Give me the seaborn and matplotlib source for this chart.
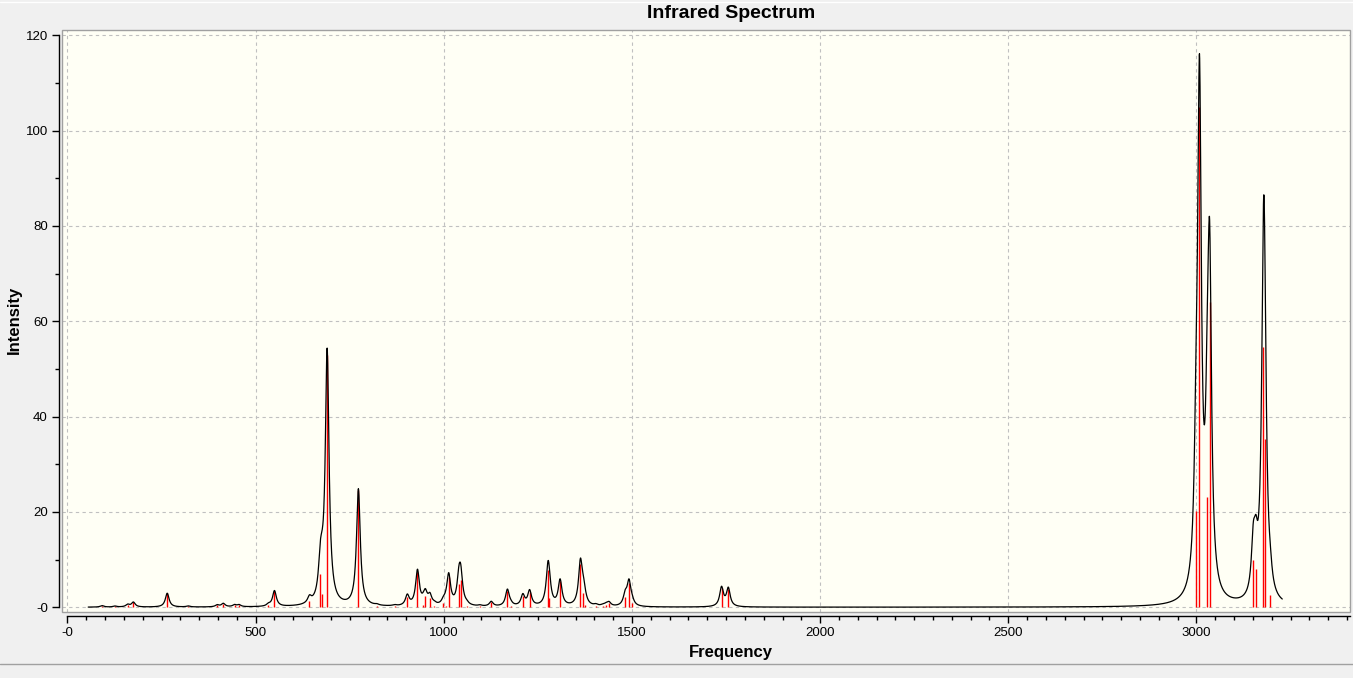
import numpy as np
import pandas as pd
import matplotlib
matplotlib.use("Agg")
import matplotlib.pyplot as plt
import seaborn as sns
from matplotlib.ticker import MultipleLocator, FuncFormatter
from matplotlib.patches import Rectangle
from matplotlib.lines import Line2D

# stick spectrum (frequency in cm-1, intensity)
freqs = [92, 126, 160, 175, 265, 321, 398, 414, 444, 456, 534, 550,
         643, 672, 677, 690, 773, 822, 869, 903, 930, 946, 951, 963,
         975, 999, 1006, 1013, 1040, 1045, 1061, 1096, 1126, 1169, 1178,
         1210, 1228, 1277, 1280, 1309, 1363, 1371, 1376, 1404, 1422, 1431,
         1439, 1482, 1492, 1500, 1738, 1756,
         2999, 3008, 3029, 3035, 3151, 3158, 3178, 3181, 3196]
intens = [0.3, 0.2, 0.5, 1.0, 2.9, 0.2, 0.4, 0.7, 0.4, 0.4, 0.4, 3.3,
          1.3, 6.9, 2.8, 53.0, 24.5, 0.2, 0.2, 2.2, 7.4, 0.5, 2.4, 2.0,
          0.3, 0.8, 0.3, 6.4, 4.8, 5.8, 0.3, 0.2, 1.0, 3.5, 0.3,
          2.3, 3.2, 7.8, 2.0, 5.4, 9.0, 2.9, 0.4, 0.3, 0.2, 0.4,
          0.8, 2.2, 5.0, 0.8, 4.0, 3.8,
          20.2, 105.0, 23.1, 64.0, 10.0, 8.0, 54.6, 35.3, 2.5]

# Lorentzian broadening of the sticks (half width at half maximum, cm-1)
hwhm = 6.0
curve_start, curve_end = 55, 3228

grid = np.arange(curve_start, curve_end + 0.5, 0.5)
f = np.array(freqs)[:, None]
a = np.array(intens)[:, None]
spectrum = (a / (1 + ((grid[None, :] - f) / hwhm) ** 2)).sum(axis=0)
df = pd.DataFrame({"Frequency": grid, "Intensity": spectrum})

sns.set_style("white")
plt.rcParams["font.family"] = ["Liberation Sans", "DejaVu Sans"]
plt.rcParams["text.color"] = "black"

W, H = 1353, 678
fig = plt.figure(figsize=(W / 100, H / 100), dpi=100, facecolor="#F0F0F0")
ax = fig.add_axes([62 / W, 1 - 611.5 / H, (1350 - 62) / W, (611.5 - 29.5) / H])
ax.set_facecolor("#FFFFF5")

ax.vlines(freqs, 0, intens, colors="red", lw=1.0, zorder=2)
sns.lineplot(data=df, x="Frequency", y="Intensity", color="black", lw=0.9,
             sort=False, estimator=None, ax=ax, zorder=3)

ax.set_xlim(-14.6, 3408)
ax.set_ylim(-0.9, 121.2)

ax.xaxis.set_major_locator(MultipleLocator(500))
ax.xaxis.set_minor_locator(MultipleLocator(50))
ax.yaxis.set_major_locator(MultipleLocator(20))
ax.yaxis.set_minor_locator(MultipleLocator(10))
fmt = FuncFormatter(lambda v, p: "-0" if abs(v) < 1e-9 else f"{v:.0f}")
ax.xaxis.set_major_formatter(fmt)
ax.yaxis.set_major_formatter(fmt)
ax.tick_params(which="major", direction="out", length=5, width=1,
               colors="black", labelcolor="black", labelsize=9.5, pad=3,
               bottom=True, left=True)
ax.tick_params(which="minor", direction="out", length=3, width=1,
               colors="black", bottom=True, left=True)

ax.grid(True, which="major", ls=(0, (3, 3)), color="#C0C0C0", lw=0.8)
ax.set_axisbelow(True)

for side in ["top", "right"]:
    ax.spines[side].set_visible(False)
ax.spines["left"].set_position(("outward", 2.2))
ax.spines["bottom"].set_position(("outward", 3.2))
ax.spines["left"].set_bounds(0, 120)
ax.spines["bottom"].set_bounds(0, 3408)
for side in ["left", "bottom"]:
    ax.spines[side].set_color("black")
    ax.spines[side].set_linewidth(1.0)

# grey frame of the plot area
ax.add_patch(Rectangle((0, 0), 1, 1, transform=ax.transAxes, fill=False,
                       edgecolor="#A0A0A0", lw=1.0, clip_on=False, zorder=5))

ax.set_xlabel("")
ax.set_ylabel("")
fig.text(731 / W, 1 - 13.5 / H, "Infrared Spectrum", ha="center", va="center",
         fontsize=14, fontweight="bold", color="black")
fig.text(731 / W, 1 - 653 / H, "Frequency", ha="center", va="center",
         fontsize=12, fontweight="bold", color="black")
fig.text(14 / W, 1 - 320 / H, "Intensity", ha="center", va="center",
         rotation=90, fontsize=12, fontweight="bold", color="black")

# window edge lines
fig.add_artist(Line2D([0, 1], [1 - 664 / H] * 2, color="#A0A0A0", lw=1))
fig.add_artist(Line2D([0, 1], [1 - 1.5 / H] * 2, color="white", lw=1))

fig.savefig("out.png", dpi=100, facecolor=fig.get_facecolor())
